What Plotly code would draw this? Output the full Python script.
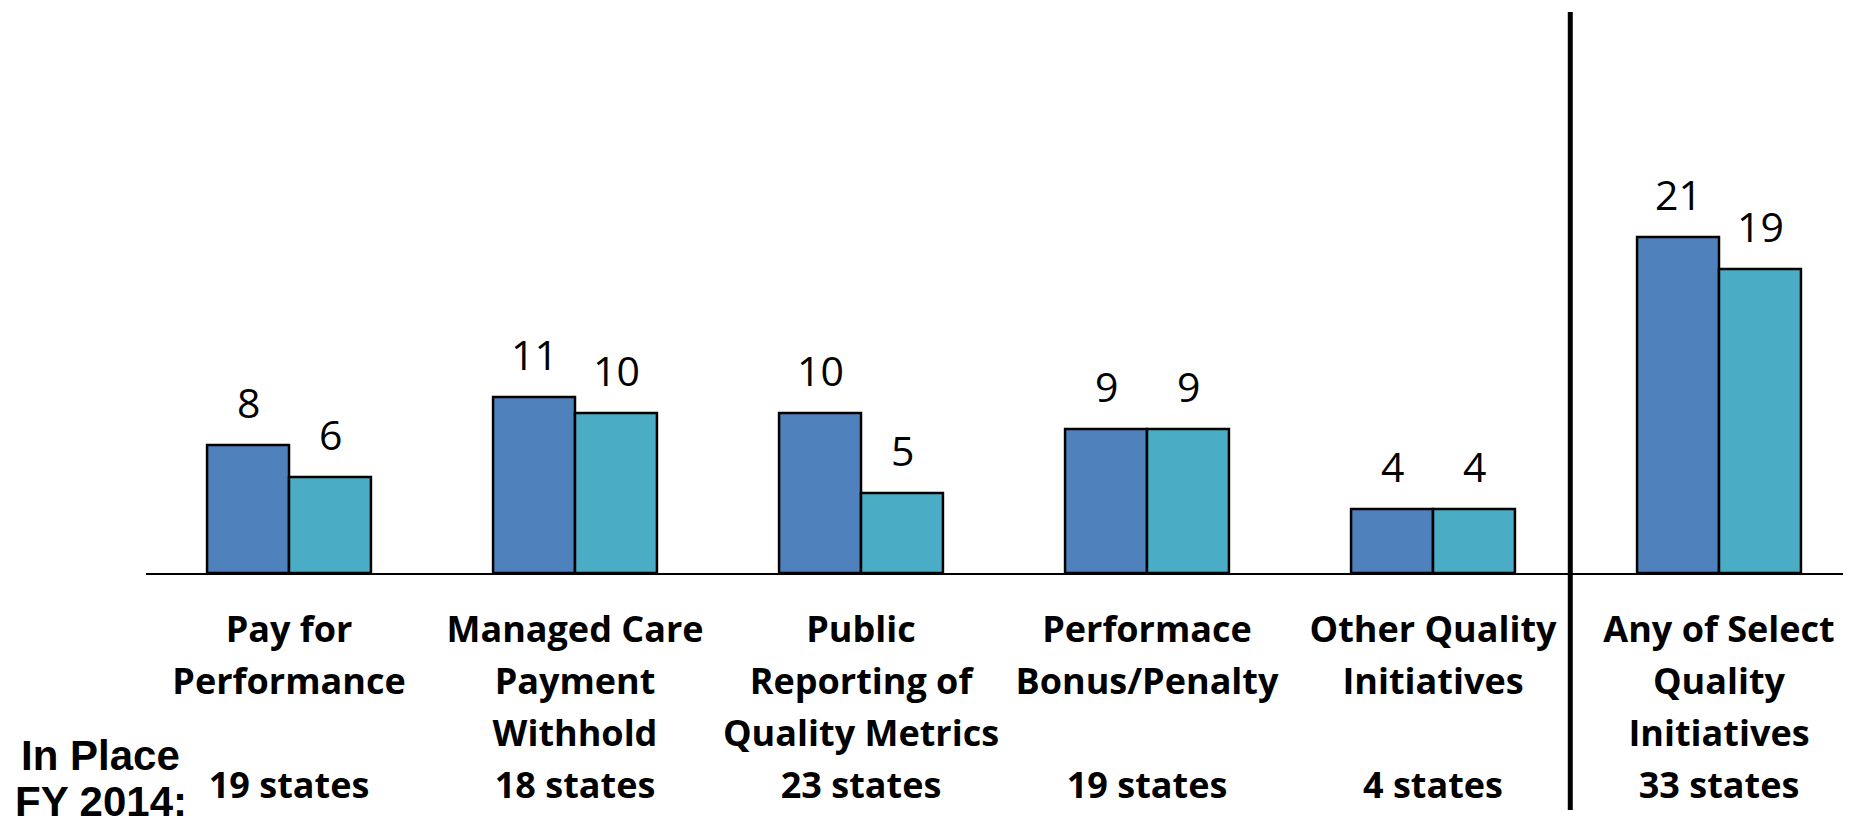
import plotly.graph_objects as go

# ---- data ----
categories = [
    ["Pay for", "Performance"],
    ["Managed Care", "Payment", "Withhold"],
    ["Public", "Reporting of", "Quality Metrics"],
    ["Performace", "Bonus/Penalty"],
    ["Other Quality", "Initiatives"],
    ["Any of Select", "Quality", "Initiatives"],
]
states_in_place = ["19 states", "18 states", "23 states", "19 states", "4 states", "33 states"]
series_a = [8, 11, 10, 9, 4, 21]
series_b = [6, 10, 5, 9, 4, 19]
row_label = ["In Place", "FY 2014:"]

# ---- styling ----
BLUE = "#4F81BD"
TEAL = "#4BACC6"
CAT_FONT = "Open Sans"
N = len(categories)
xs = list(range(N))


def tick_text(name_lines, states):
    lines = list(name_lines) + ["\u00a0"] * (3 - len(name_lines)) + [states]
    return "<br>".join(f"<span style='font-size:36px'>{ln}</span>" for ln in lines)


ticktext = [tick_text(c, s) for c, s in zip(categories, states_in_place)]

fig = go.Figure()
fig.add_trace(go.Bar(x=xs, y=series_a, name="Series A",
                     marker=dict(color=BLUE, line=dict(color="black", width=2.5))))
fig.add_trace(go.Bar(x=xs, y=series_b, name="Series B",
                     marker=dict(color=TEAL, line=dict(color="black", width=2.5))))

annotations = []
half = 41
for i, (a, b) in enumerate(zip(series_a, series_b)):
    for v, sh in ((a, -half), (b, half)):
        annotations.append(dict(x=i, y=v, xref="x", yref="y", text=str(v), showarrow=False,
                                xshift=sh, yanchor="bottom", yshift=13,
                                font=dict(family="Open Sans", size=41, color="black")))

for txt, yp in zip(row_label, (-0.3262, -0.4080)):
    annotations.append(dict(x=-0.0265, y=yp, xref="paper", yref="paper", text=f"<b>{txt}</b>",
                            showarrow=False, xanchor="center", yanchor="middle",
                            font=dict(family="Liberation Sans", size=42, color="black")))

fig.update_layout(
    width=1843, height=815,
    margin=dict(l=138, r=0, t=4, b=250, autoexpand=False),
    paper_bgcolor="white", plot_bgcolor="white",
    barmode="group", bargap=0.427, bargroupgap=0,
    showlegend=False,
    annotations=annotations,
    xaxis=dict(range=[-0.5, -0.5 + 1705 / 286], tickmode="array", tickvals=xs, ticktext=ticktext,
               tickfont=dict(family=CAT_FONT, size=40, color="black", weight="bold"),
               showline=True, linecolor="black", linewidth=2, ticks="", showgrid=False,
               zeroline=False, tickangle=0, ticklabelstandoff=19, automargin=False),
    yaxis=dict(range=[0, 561 / 16], showticklabels=False, showgrid=False, zeroline=False,
               showline=False),
    shapes=[dict(type="line", xref="x", yref="paper", x0=4.48, x1=4.48, y0=-0.4225, y1=1.0,
                 line=dict(color="black", width=5))],
)

fig.write_html("out.html")
